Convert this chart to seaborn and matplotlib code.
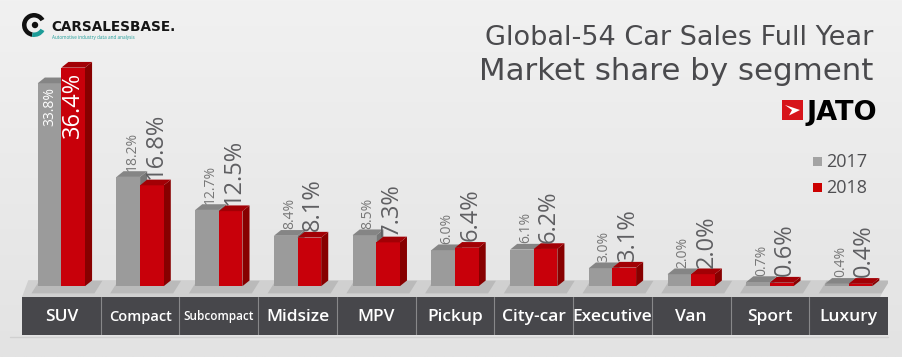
import numpy as np
import matplotlib
matplotlib.use("Agg")
import matplotlib.pyplot as plt
from matplotlib.patches import Polygon, Rectangle, Wedge, Circle
import seaborn as sns
import pandas as pd

SEGMENTS = ["SUV", "Compact", "Subcompact", "Midsize", "MPV", "Pickup",
            "City-car", "Executive", "Van", "Sport", "Luxury"]
SHARE_2017 = [33.8, 18.2, 12.7, 8.4, 8.5, 6.0, 6.1, 3.0, 2.0, 0.7, 0.4]
SHARE_2018 = [36.4, 16.8, 12.5, 8.1, 7.3, 6.4, 6.2, 3.1, 2.0, 0.6, 0.4]
YEARS = ["2017", "2018"]

GRAY = "#9b9b9b"
GRAY_SIDE = "#777777"
GRAY_TOP = "#858585"
RED = "#c8000a"
RED_SIDE = "#870000"
RED_TOP = "#a20005"
TXT = "#4a4a4d"

df = pd.DataFrame({
    "segment": SEGMENTS * 2,
    "year": [YEARS[0]] * len(SEGMENTS) + [YEARS[1]] * len(SEGMENTS),
    "share": SHARE_2017 + SHARE_2018,
})

sns.set_theme(style="white")
plt.rcParams["font.family"] = ["Open Sans", "DejaVu Sans"]

W, H = 902, 357
fig = plt.figure(figsize=(W / 100, H / 100), dpi=100)

# фон с лёгким градиентом
bg = fig.add_axes([0, 0, 1, 1], zorder=-5)
grad = np.linspace(0, 1, 200)[:, None] * np.ones((1, 200))
bg.imshow(grad, cmap=matplotlib.colors.LinearSegmentedColormap.from_list("bg", ["#f1f1f1", "#e3e3e3"]),
          aspect="auto", extent=[0, 1, 0, 1], origin="upper")
bg.axis("off")

# --- основной график ---
ax = fig.add_axes([22 / W, (H - 297) / H, 866 / W, 275 / H], zorder=1)
ax.patch.set_alpha(0)
sns.barplot(data=df, x="segment", y="share", hue="year", palette={"2017": GRAY, "2018": RED},
            width=0.6, saturation=1, errorbar=None, legend=False, linewidth=0, ax=ax)
ax.set_xlim(-0.5, len(SEGMENTS) - 0.5)
ax.set_ylim(-1.8, 44)
ax.axis("off")

# "пол" под столбцами
n = len(SEGMENTS)
ax.add_patch(Polygon([(-0.5, -1.8), (n - 0.6, -1.8), (n - 0.5, 1.0), (-0.42, 1.0)],
                     closed=True, facecolor="#d0d0d0", edgecolor="none", zorder=0.5, clip_on=False))
for i in range(n):
    ax.add_patch(Polygon([(i - 0.38, -1.2), (i + 0.42, -1.2), (i + 0.52, 0.9), (i - 0.28, 0.9)],
                         closed=True, facecolor="#bababa", edgecolor="none", zorder=0.6))

DX, DY = 0.09, 0.95
for k, container in enumerate(ax.containers):
    side_c = [GRAY_SIDE, RED_SIDE][k]
    top_c = [GRAY_TOP, RED_TOP][k]
    for bar in container:
        x0, w, h = bar.get_x(), bar.get_width(), bar.get_height()
        z = 2 + 2 * k
        bar.set_zorder(z + 0.5)
        ax.add_patch(Polygon([(x0 + w, 0), (x0 + w + DX, DY), (x0 + w + DX, h + DY), (x0 + w, h)],
                             facecolor=side_c, edgecolor="none", zorder=z))
        ax.add_patch(Polygon([(x0, h), (x0 + DX, h + DY), (x0 + w + DX, h + DY), (x0 + w, h)],
                             facecolor=top_c, edgecolor="none", zorder=z + 0.6))

# подписи значений
for k, container in enumerate(ax.containers):
    size = [10, 17][k]
    for i, bar in enumerate(container):
        cx = bar.get_x() + bar.get_width() / 2 + DX / 2
        h = bar.get_height()
        label = f"{h:.1f}%"
        if i == 0:
            ax.text(cx - DX / 2, h - 0.7, label, rotation=90, ha="center", va="top",
                    fontsize=size, color="white", zorder=10)
        else:
            ax.text(cx, h + DY + 0.1, label, rotation=90, ha="center", va="bottom",
                    fontsize=size, color=["#777777", "#5f5f62"][k], zorder=10)

# полоса с названиями сегментов
bax = fig.add_axes([22 / W, (H - 335) / H, 866 / W, 38 / H], zorder=2)
bax.set_xlim(ax.get_xlim())
bax.set_ylim(0, 1)
bax.set_facecolor("#47474b")
for k in range(1, n):
    bax.axvline(k - 0.5, color="#88888a", lw=0.8)
label_sizes = {"Compact": 10.5, "Subcompact": 8.5}
for i, seg in enumerate(SEGMENTS):
    bax.text(i, 0.48, seg, ha="center", va="center", color="white",
             fontsize=label_sizes.get(seg, 12.5), fontweight="semibold")
bax.set_xticks([])
bax.set_yticks([])
for s in bax.spines.values():
    s.set_visible(False)

# --- заголовки, логотипы, легенда (в пикселях) ---
ov = fig.add_axes([0, 0, 1, 1], zorder=5)
ov.set_xlim(0, W)
ov.set_ylim(H, 0)
ov.axis("off")
ov.patch.set_alpha(0)

ov.plot([10, 888], [337, 337], color="#d0d0d0", lw=1)

ov.text(873, 45, "Global-54 Car Sales Full Year", ha="right", va="baseline", fontsize=19.5,
        color=TXT, family="DejaVu Sans")
ov.text(873, 80, "Market share by segment", ha="right", va="baseline", fontsize=22.2,
        color=TXT, family="DejaVu Sans")

# JATO
ov.add_patch(Rectangle((782, 100), 21, 20, facecolor="#d7141a", edgecolor="none"))
ov.add_patch(Polygon([(785, 105), (800, 110), (789, 115.5), (792, 110)], facecolor="white", edgecolor="none"))
ov.text(877, 120, "JATO", ha="right", va="baseline", fontsize=19.5, fontweight="bold",
        color="black", family="DejaVu Sans")

# легенда
ov.add_patch(Rectangle((813, 157), 9, 9, facecolor="#a3a3a3", edgecolor="none"))
ov.text(826, 167, "2017", ha="left", va="baseline", fontsize=13, color="#4f4f52")
ov.add_patch(Rectangle((813, 183), 9, 9, facecolor="#cc0000", edgecolor="none"))
ov.text(826, 193, "2018", ha="left", va="baseline", fontsize=13, color="#4f4f52")

# логотип CARSALESBASE
ov.add_patch(Wedge((34, 25), 12, 100, 330, width=4.5, facecolor="#111111", edgecolor="none"))
ov.add_patch(Wedge((34, 25), 12, 30, 100, width=4.5, facecolor="#1d9c98", edgecolor="none"))
ov.add_patch(Circle((35, 25), 3.2, facecolor="#111111", edgecolor="none"))
ov.text(51, 31, "CARSALESBASE.", ha="left", va="baseline", fontsize=9.8, fontweight="bold",
        color="#151515", family="DejaVu Sans")
ov.text(52, 39, "Automotive industry data and analysis", ha="left", va="baseline", fontsize=3.3,
        color="#1d9c98")

fig.savefig("out.png", dpi=100)
